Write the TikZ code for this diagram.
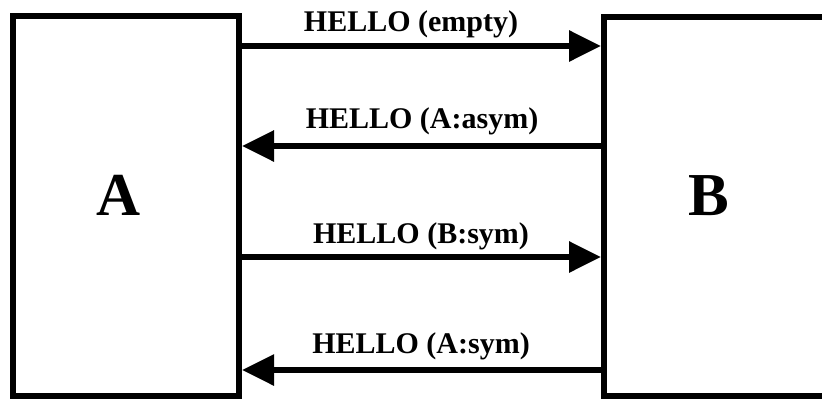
\documentclass[tikz,border=0pt]{standalone}
\usepackage{fontspec}
\setmainfont{Liberation Serif}
\usetikzlibrary{arrows.meta}
\begin{document}
\begin{tikzpicture}[x=1pt,y=-1pt,
  party/.style={draw=black,line width=6pt,rectangle,minimum width=226pt,inner sep=0pt},
  msg/.style={draw=black,line width=6pt,-{Triangle[length=32pt 0 0,width=30pt 0 0]}},
  msglabel/.style={font=\bfseries\fontsize{30}{33}\selectfont,anchor=base,inner sep=0pt},
  biglabel/.style={font=\bfseries\fontsize{61}{66}\selectfont,anchor=base,inner sep=0pt}]
\useasboundingbox (0,0) rectangle (822,399);
\node[party,minimum height=379.5pt] (A) at (126,205.75) {};
\node[party,minimum height=379pt] (B) at (717,206.5) {};
\node[biglabel] (la) at (119,215) {A};
\node[biglabel] (lb) at (709,215) {B};
\coordinate (y1) at (0,46);
\coordinate (y2) at (0,146);
\coordinate (y3) at (0,257);
\coordinate (y4) at (0,370);
\draw[msg] (A.east |- y1) -- (B.west |- y1);
\draw[msg] (B.west |- y2) -- (A.east |- y2);
\draw[msg] (A.east |- y3) -- (B.west |- y3);
\draw[msg] (B.west |- y4) -- (A.east |- y4);
\node[msglabel] (m1) at (411,31) {HELLO (empty)};
\node[msglabel] (m2) at (422,128) {HELLO (A:asym)};
\node[msglabel] (m3) at (421,243) {HELLO (B:sym)};
\node[msglabel] (m4) at (421,353) {HELLO (A:sym)};
\end{tikzpicture}
\end{document}
